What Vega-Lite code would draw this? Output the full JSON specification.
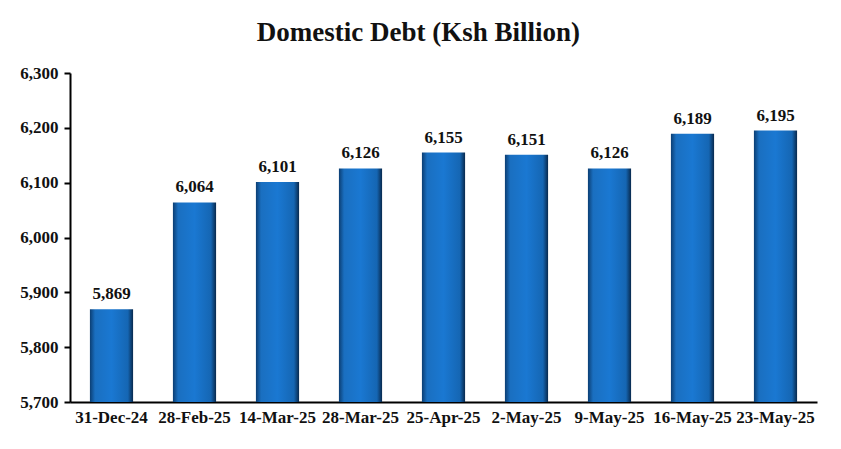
{
  "$schema": "https://vega.github.io/schema/vega-lite/v6.json",
  "autosize": "none",
  "width": 747,
  "height": 329,
  "padding": {"left": 70, "top": 73, "right": 24, "bottom": 47},
  "background": "white",
  "title": {
    "text": "Domestic Debt (Ksh Billion)",
    "font": "Liberation Serif",
    "fontSize": 27,
    "fontWeight": "bold",
    "color": "#111111",
    "anchor": "middle",
    "frame": "bounds",
    "offset": 17
  },
  "data": {
    "values": [
      {"date": "31-Dec-24", "value": 5869},
      {"date": "28-Feb-25", "value": 6064},
      {"date": "14-Mar-25", "value": 6101},
      {"date": "28-Mar-25", "value": 6126},
      {"date": "25-Apr-25", "value": 6155},
      {"date": "2-May-25", "value": 6151},
      {"date": "9-May-25", "value": 6126},
      {"date": "16-May-25", "value": 6189},
      {"date": "23-May-25", "value": 6195}
    ]
  },
  "config": {
    "view": {"stroke": null},
    "axis": {
      "labelFont": "Liberation Serif",
      "labelFontWeight": "bold",
      "labelFontSize": 17,
      "labelColor": "#111111",
      "domainColor": "#000000",
      "domainWidth": 2,
      "tickColor": "#000000",
      "tickWidth": 2,
      "grid": false,
      "title": null
    }
  },
  "encoding": {
    "x": {
      "field": "date",
      "type": "nominal",
      "sort": null,
      "scale": {"paddingInner": 0.48, "paddingOuter": 0.24},
      "axis": {"labelAngle": 0, "ticks": false, "labelPadding": 7}
    },
    "y": {
      "field": "value",
      "type": "quantitative",
      "scale": {"domain": [5700, 6300], "zero": false},
      "axis": {"values": [5700, 5800, 5900, 6000, 6100, 6200, 6300], "format": ",.0f", "tickSize": 6, "labelPadding": 6}
    }
  },
  "layer": [
    {
      "mark": {
        "type": "bar",
        "clip": true,
        "color": {
          "gradient": "linear",
          "x1": 0, "y1": 0, "x2": 1, "y2": 0,
          "stops": [
            {"offset": 0, "color": "#0b3e73"},
            {"offset": 0.12, "color": "#1a6fc0"},
            {"offset": 0.5, "color": "#1a78d2"},
            {"offset": 0.88, "color": "#1566b3"},
            {"offset": 1, "color": "#08294d"}
          ]
        }
      }
    },
    {
      "mark": {
        "type": "text",
        "dy": -15,
        "font": "Liberation Serif",
        "fontWeight": "bold",
        "fontSize": 17,
        "color": "#111111"
      },
      "encoding": {
        "text": {"field": "value", "type": "quantitative", "format": ",.0f"}
      }
    }
  ]
}
